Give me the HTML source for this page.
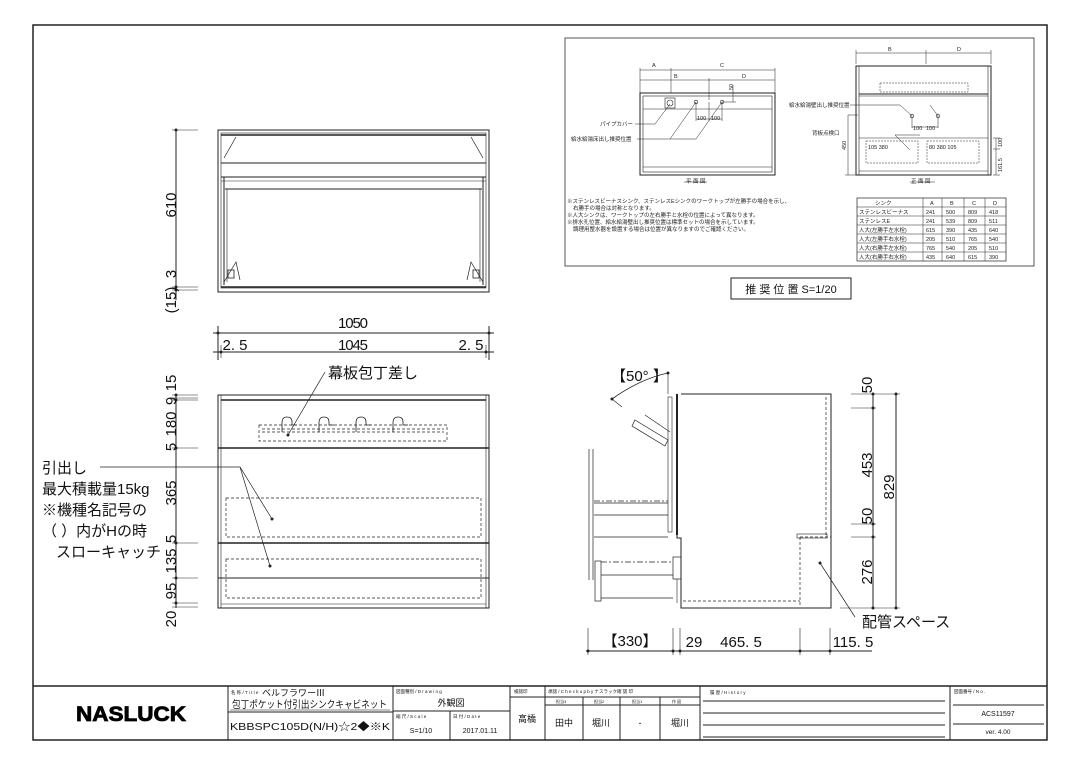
<!DOCTYPE html>
<html><head><meta charset="utf-8"><style>
html,body{margin:0;padding:0;background:#fff;}
svg{display:block;font-family:"Liberation Sans","Noto Sans CJK JP",sans-serif;}
</style></head><body>
<svg width="1080" height="764" viewBox="0 0 1080 764" xmlns="http://www.w3.org/2000/svg">
<rect width="1080" height="764" fill="#fff"/>
<g fill="none" stroke="#222" stroke-width="1">
<rect x="33" y="25" width="1014" height="715" stroke-width="1.5"/>
<line x1="33" y1="686" x2="1047" y2="686" stroke-width="1.5"/>
<line x1="228" y1="686" x2="228" y2="740"/>
<line x1="393" y1="686" x2="393" y2="740"/>
<line x1="510" y1="686" x2="510" y2="740"/>
<line x1="545" y1="686" x2="545" y2="740"/>
<line x1="700" y1="686" x2="700" y2="740"/>
<line x1="950" y1="686" x2="950" y2="740"/>
<line x1="228" y1="712" x2="393" y2="712"/>
<line x1="393" y1="711" x2="510" y2="711"/>
<line x1="450" y1="711" x2="450" y2="740"/>
<line x1="510" y1="697" x2="545" y2="697"/>
<line x1="545" y1="697" x2="700" y2="697"/>
<line x1="545" y1="705" x2="700" y2="705"/>
<line x1="583" y1="697" x2="583" y2="740"/>
<line x1="620" y1="697" x2="620" y2="740"/>
<line x1="660" y1="697" x2="660" y2="740"/>
<line x1="703" y1="701" x2="945" y2="701"/>
<line x1="703" y1="713" x2="945" y2="713"/>
<line x1="703" y1="725" x2="945" y2="725"/>
<line x1="703" y1="737" x2="945" y2="737"/>
<line x1="953" y1="705" x2="1044" y2="705"/>
<line x1="953" y1="724" x2="1044" y2="724"/>
<rect x="565" y="38" width="469" height="228" stroke="#555"/>
<rect x="731" y="278" width="120" height="21"/>
<rect x="640" y="93" width="135" height="82"/>
<rect x="643" y="96" width="129" height="76" stroke-width="0.6"/>
<line x1="643" y1="109" x2="772" y2="109" stroke-width="0.5"/>
<line x1="643" y1="167" x2="772" y2="167" stroke-width="0.5"/>
<rect x="665" y="98" width="10" height="10" stroke-width="0.6"/>
<circle cx="670" cy="103" r="3" stroke-width="0.6"/>
<circle cx="696" cy="102" r="1.8" stroke-width="0.6"/><circle cx="722" cy="102" r="1.8" stroke-width="0.6"/>
<g stroke-width="0.5">
<line x1="640" y1="68" x2="640" y2="93"/><line x1="671" y1="68" x2="671" y2="93"/><line x1="775" y1="68" x2="775" y2="93"/>
<line x1="640" y1="70" x2="775" y2="70"/><line x1="640" y1="80" x2="775" y2="80"/><line x1="709" y1="78" x2="709" y2="100"/>
<line x1="696" y1="102" x2="696" y2="121"/><line x1="722" y1="102" x2="722" y2="121"/><line x1="709" y1="102" x2="709" y2="121"/><line x1="696" y1="119" x2="722" y2="119"/>
<line x1="722" y1="102" x2="736" y2="102"/><line x1="733" y1="85" x2="733" y2="102"/>
<line x1="635" y1="124" x2="655" y2="124"/><line x1="655" y1="124" x2="670" y2="104"/>
<line x1="637" y1="139" x2="670" y2="139"/><line x1="670" y1="139" x2="696" y2="102"/><line x1="696" y1="139" x2="722" y2="102"/><line x1="670" y1="139" x2="696" y2="139"/>
<line x1="684" y1="182" x2="707" y2="182"/><line x1="910" y1="182" x2="935" y2="182"/>
</g>
<rect x="856" y="66" width="135" height="109"/>
<line x1="859" y1="66" x2="859" y2="175" stroke-width="0.6"/><line x1="988" y1="66" x2="988" y2="175" stroke-width="0.6"/>
<line x1="859" y1="94" x2="988" y2="94"/><line x1="859" y1="96" x2="988" y2="96" stroke-width="0.5"/>
<line x1="859" y1="138" x2="988" y2="138" stroke-width="0.6"/><line x1="859" y1="171" x2="988" y2="171" stroke-width="0.6"/>
<rect x="880" y="83" width="88" height="9" stroke-width="0.5" stroke-dasharray="2,1"/>
<rect x="866" y="141" width="52" height="22" stroke-width="0.5" stroke-dasharray="2,1"/>
<rect x="927" y="141" width="52" height="22" stroke-width="0.5" stroke-dasharray="2,1"/>
<circle cx="912" cy="116" r="1.8" stroke-width="0.6"/><circle cx="938" cy="116" r="1.8" stroke-width="0.6"/>
<g stroke-width="0.5">
<line x1="856" y1="50" x2="856" y2="64"/><line x1="926" y1="50" x2="926" y2="64"/><line x1="991" y1="50" x2="991" y2="64"/><line x1="856" y1="53" x2="991" y2="53"/>
<line x1="850" y1="105" x2="900" y2="105"/><line x1="900" y1="105" x2="912" y2="116"/><line x1="930" y1="105" x2="938" y2="116"/>
<line x1="848" y1="115" x2="848" y2="175"/><line x1="848" y1="115" x2="858" y2="115"/><line x1="845" y1="175" x2="858" y2="175"/>
<line x1="996" y1="138" x2="996" y2="175"/><line x1="993" y1="138" x2="1000" y2="138"/><line x1="993" y1="149" x2="1000" y2="149"/><line x1="993" y1="175" x2="1000" y2="175"/>
<line x1="912" y1="116" x2="912" y2="128"/><line x1="938" y1="116" x2="938" y2="128"/><line x1="912" y1="127" x2="938" y2="127"/>
<line x1="895" y1="135" x2="920" y2="135"/><line x1="895" y1="135" x2="910" y2="150"/>
</g>
<rect x="857" y="198" width="149" height="63" stroke-width="0.7"/>
<g stroke-width="0.5">
<line x1="857" y1="207" x2="1006" y2="207"/><line x1="857" y1="216" x2="1006" y2="216"/><line x1="857" y1="225" x2="1006" y2="225"/><line x1="857" y1="234" x2="1006" y2="234"/><line x1="857" y1="243" x2="1006" y2="243"/><line x1="857" y1="252" x2="1006" y2="252"/>
<line x1="923" y1="198" x2="923" y2="261"/><line x1="942" y1="198" x2="942" y2="261"/><line x1="964" y1="198" x2="964" y2="261"/><line x1="985" y1="198" x2="985" y2="261"/>
</g>
<rect x="218" y="130" width="271" height="162"/>
<rect x="221" y="133" width="265" height="155" stroke-width="0.6"/>
<line x1="221" y1="135" x2="486" y2="135" stroke-width="1.5"/>
<line x1="221" y1="163" x2="486" y2="163"/>
<line x1="221" y1="177" x2="486" y2="177"/><line x1="221" y1="181" x2="486" y2="181" stroke-width="0.6"/><line x1="225" y1="189" x2="482" y2="189"/>
<line x1="224" y1="177" x2="224" y2="285"/><line x1="483" y1="177" x2="483" y2="285"/>
<line x1="227" y1="189" x2="227" y2="282" stroke-width="0.6"/><line x1="480" y1="189" x2="480" y2="282" stroke-width="0.6"/>
<line x1="221" y1="287" x2="486" y2="287" stroke-width="1.5"/>
<path d="M224 158 L236 137 M483 158 L471 137 M224 282 L236 262 L240 280 M483 282 L471 262 L467 280" stroke-width="0.7"/>
<rect x="228" y="270" width="6" height="8" stroke-width="0.8"/><rect x="473" y="270" width="6" height="8" stroke-width="0.8"/>
<line x1="176" y1="130" x2="176" y2="300"/>
<line x1="172" y1="130" x2="198" y2="130" stroke-width="0.6"/>
<line x1="172" y1="287" x2="198" y2="287" stroke-width="0.6"/><line x1="172" y1="290" x2="198" y2="290" stroke-width="0.6"/>
<line x1="218" y1="326" x2="218" y2="360"/><line x1="489" y1="326" x2="489" y2="360"/>
<line x1="213" y1="333" x2="494" y2="333"/>
<line x1="213" y1="352" x2="494" y2="352"/>
<line x1="221" y1="345" x2="221" y2="358" stroke-width="0.6"/><line x1="486" y1="345" x2="486" y2="358" stroke-width="0.6"/>
<rect x="218" y="395" width="271" height="213"/>
<line x1="221" y1="395" x2="221" y2="608" stroke-width="0.6"/><line x1="486" y1="395" x2="486" y2="608" stroke-width="0.6"/>
<line x1="221" y1="400" x2="486" y2="400" stroke-width="1.5"/>
<line x1="218" y1="448" x2="489" y2="448" stroke-width="1.5"/>
<line x1="218" y1="543" x2="489" y2="543" stroke-width="1.5"/>
<line x1="218" y1="578" x2="489" y2="578"/>
<line x1="221" y1="604" x2="486" y2="604" stroke-width="0.6"/>
<g stroke-dasharray="3,2" stroke-width="0.7">
<rect x="259" y="425" width="188" height="16"/>
<line x1="262" y1="429" x2="444" y2="429"/><line x1="262" y1="432" x2="444" y2="432"/>
<rect x="226" y="498" width="255" height="39"/>
<rect x="226" y="559" width="255" height="39"/>
</g>
<g stroke-width="0.8">
<path d="M282 432 v-9 q0 -6 5 -6 q5 0 5 5 v3 h5"/>
<path d="M319 432 v-9 q0 -6 5 -6 q5 0 5 5 v3 h5"/>
<path d="M356 432 v-9 q0 -6 5 -6 q5 0 5 5 v3 h5"/>
<path d="M393 432 v-9 q0 -6 5 -6 q5 0 5 5 v3 h5"/>
</g>
<path d="M325 372 L288 435" stroke-width="0.7"/>
<path d="M100 467 L240 467 L272 519 M240 467 L270 566" stroke-width="0.7"/>
<line x1="176" y1="394" x2="176" y2="608"/>
<g stroke-width="0.6">
<line x1="172" y1="395" x2="198" y2="395"/><line x1="172" y1="398" x2="198" y2="398"/><line x1="172" y1="400" x2="198" y2="400"/>
<line x1="172" y1="448" x2="198" y2="448"/><line x1="172" y1="543" x2="198" y2="543"/><line x1="172" y1="578" x2="198" y2="578"/>
<line x1="172" y1="603" x2="198" y2="603"/><line x1="172" y1="607" x2="198" y2="607"/>
</g>
<path d="M681 394 H831 V608 H681 V538 H677 V394" />
<line x1="677" y1="394" x2="677" y2="535" stroke-width="2"/>
<rect x="668" y="397" width="4" height="135" stroke-width="0.6"/>
<rect x="673" y="557" width="8" height="22" stroke-width="0.7"/>
<line x1="677" y1="579" x2="677" y2="603" stroke-width="0.6"/>
<g stroke-dasharray="3,2" stroke-width="0.7">
<line x1="826" y1="397" x2="826" y2="535"/>
<line x1="800" y1="537" x2="831" y2="537"/>
<line x1="800" y1="537" x2="800" y2="605"/>
<line x1="683" y1="601" x2="800" y2="601"/>
</g>
<rect x="797" y="534" width="30" height="4" stroke-width="0.6"/>
<g stroke-width="0.7">
<line x1="589" y1="449" x2="589" y2="580"/><line x1="593" y1="449" x2="593" y2="580"/>
<line x1="594" y1="501" x2="668" y2="501" stroke-dasharray="6,2,2,2"/><line x1="594" y1="503" x2="668" y2="503"/>
<line x1="594" y1="515" x2="668" y2="515"/><line x1="594" y1="537" x2="668" y2="537"/>
<rect x="595" y="561" width="6" height="40"/>
<line x1="601" y1="562" x2="673" y2="562" stroke-dasharray="6,2,2,2"/><line x1="601" y1="575" x2="673" y2="575"/><line x1="601" y1="598" x2="673" y2="598"/>
<path d="M635 420 L668 440 L665 446 L632 426 Z"/>
<path d="M645 415 L670 432"/>
</g>
<path d="M612 399 Q640 379 668 373" stroke-width="0.8"/>
<line x1="668" y1="373" x2="668" y2="394" stroke-width="0.6"/>
<line x1="612" y1="399" x2="622" y2="407" stroke-width="0.6"/>
<line x1="873" y1="394" x2="873" y2="608"/><line x1="896" y1="394" x2="896" y2="608"/>
<g stroke-width="0.6">
<line x1="851" y1="394" x2="900" y2="394"/><line x1="851" y1="408" x2="876" y2="408"/>
<line x1="851" y1="524" x2="876" y2="524"/><line x1="851" y1="537" x2="876" y2="537"/>
<line x1="840" y1="608" x2="900" y2="608"/>
<line x1="588" y1="628" x2="588" y2="655"/><line x1="673" y1="628" x2="673" y2="655"/><line x1="680" y1="628" x2="680" y2="655"/><line x1="800" y1="628" x2="800" y2="655"/><line x1="830" y1="628" x2="830" y2="655"/>
</g>
<line x1="586" y1="651" x2="872" y2="651"/>
<line x1="820" y1="563" x2="855" y2="617" stroke-width="0.7"/>
</g>
<g fill="#222">
<circle cx="176" cy="130" r="1.5"/><circle cx="176" cy="287" r="1.5"/><circle cx="176" cy="290" r="1.5"/>
<circle cx="218" cy="333" r="1.5"/><circle cx="489" cy="333" r="1.5"/><circle cx="221" cy="352" r="1.5"/><circle cx="486" cy="352" r="1.5"/>
<circle cx="176" cy="395" r="1.5"/><circle cx="176" cy="400" r="1.5"/><circle cx="176" cy="448" r="1.5"/><circle cx="176" cy="543" r="1.5"/><circle cx="176" cy="578" r="1.5"/><circle cx="176" cy="603" r="1.5"/>
<circle cx="288" cy="435" r="1.5"/><circle cx="272" cy="519" r="1.5"/><circle cx="270" cy="566" r="1.5"/>
<circle cx="873" cy="394" r="1.5"/><circle cx="896" cy="394" r="1.5"/><circle cx="873" cy="408" r="1.5"/><circle cx="873" cy="524" r="1.5"/><circle cx="873" cy="537" r="1.5"/><circle cx="873" cy="608" r="1.5"/><circle cx="896" cy="608" r="1.5"/>
<circle cx="588" cy="651" r="1.5"/><circle cx="673" cy="651" r="1.5"/><circle cx="680" cy="651" r="1.5"/><circle cx="800" cy="651" r="1.5"/><circle cx="830" cy="651" r="1.5"/>
<circle cx="820" cy="563" r="1.5"/><circle cx="612" cy="399" r="1.5"/><circle cx="668" cy="373" r="1.5"/>
</g>
<g fill="#111" font-size="15">
<text x="176" y="205" transform="rotate(-90 176 205)" text-anchor="middle">610</text>
<text x="176" y="274" transform="rotate(-90 176 274)" text-anchor="middle">3</text>
<text x="176" y="300" transform="rotate(-90 176 300)" text-anchor="middle">(15)</text>
<text x="353" y="328" text-anchor="middle" textLength="30">1050</text>
<text x="235" y="350" text-anchor="middle">2. 5</text>
<text x="353" y="350" text-anchor="middle" textLength="30">1045</text>
<text x="471" y="350" text-anchor="middle">2. 5</text>
<text x="328" y="378">幕板包丁差し</text>
<text x="176" y="383" transform="rotate(-90 176 383)" text-anchor="middle">15</text>
<text x="176" y="401" transform="rotate(-90 176 401)" text-anchor="middle">9</text>
<text x="176" y="424" transform="rotate(-90 176 424)" text-anchor="middle">180</text>
<text x="176" y="447" transform="rotate(-90 176 447)" text-anchor="middle">5</text>
<text x="176" y="493" transform="rotate(-90 176 493)" text-anchor="middle">365</text>
<text x="176" y="539" transform="rotate(-90 176 539)" text-anchor="middle">5</text>
<text x="176" y="561" transform="rotate(-90 176 561)" text-anchor="middle">135</text>
<text x="176" y="591" transform="rotate(-90 176 591)" text-anchor="middle">95</text>
<text x="176" y="619" transform="rotate(-90 176 619)" text-anchor="middle">20</text>
<text x="42" y="473">引出し</text>
<text x="42" y="494">最大積載量15kg</text>
<text x="42" y="515">※機種名記号の</text>
<text x="42" y="536">（ ）内がHの時</text>
<text x="56" y="557">スローキャッチ</text>
<text x="611" y="381">【50°  】</text>
<text x="872" y="385" transform="rotate(-90 872 385)" text-anchor="middle">50</text>
<text x="872" y="465" transform="rotate(-90 872 465)" text-anchor="middle">453</text>
<text x="872" y="516" transform="rotate(-90 872 516)" text-anchor="middle">50</text>
<text x="872" y="572" transform="rotate(-90 872 572)" text-anchor="middle">276</text>
<text x="894" y="487" transform="rotate(-90 894 487)" text-anchor="middle">829</text>
<text x="862" y="627">配管スペース</text>
<text x="630" y="646" text-anchor="middle">【330】</text>
<text x="694" y="647" text-anchor="middle">29</text>
<text x="741" y="647" text-anchor="middle">465. 5</text>
<text x="853" y="647" text-anchor="middle">115. 5</text>
</g>
<g fill="#222" font-size="5.5">
<text x="652" y="67">A</text><text x="720" y="67">C</text><text x="674" y="78">B</text><text x="742" y="78">D</text>
<text x="733" y="90" transform="rotate(-90 733 90)">50</text>
<text x="697" y="120">100</text><text x="711" y="120">100</text>
<text x="600" y="126">パイプカバー</text>
<text x="571" y="141">給水給湯床出し推奨位置</text>
<text x="686" y="183">平 面 図</text>
<text x="888" y="51">B</text><text x="957" y="51">D</text>
<text x="789" y="107">給水給湯壁出し推奨位置</text>
<text x="812" y="135">背板点検口</text>
<text x="913" y="130">100</text><text x="926" y="130">100</text>
<text x="868" y="149">105  380</text><text x="929" y="149">80   380  105</text>
<text x="846" y="150" transform="rotate(-90 846 150)">450</text>
<text x="1002" y="147" transform="rotate(-90 1002 147)">100</text>
<text x="1002" y="172" transform="rotate(-90 1002 172)">161.5</text>
<text x="911" y="183">正 面 図</text>
<text x="567" y="203">※ステンレスビーナスシンク、ステンレスEシンクのワークトップが左勝手の場合を示し、</text>
<text x="573" y="210">右勝手の場合は対称となります。</text>
<text x="567" y="217">※人大シンクは、ワークトップの左右勝手と水栓の位置によって異なります。</text>
<text x="567" y="224">※排水孔位置、給水給湯壁出し推奨位置は標準セットの場合を示しています。</text>
<text x="573" y="231">調理用整水器を設置する場合は位置が異なりますのでご確認ください。</text>
<text x="875" y="205">シンク</text><text x="930" y="205">A</text><text x="950" y="205">B</text><text x="972" y="205">C</text><text x="993" y="205">D</text>
<text x="859" y="214">ステンレスビーナス</text><text x="926" y="214">241</text><text x="946" y="214">500</text><text x="968" y="214">809</text><text x="989" y="214">418</text>
<text x="859" y="223">ステンレスE</text><text x="926" y="223">241</text><text x="946" y="223">539</text><text x="968" y="223">809</text><text x="989" y="223">511</text>
<text x="859" y="232">人大(左勝手左水栓)</text><text x="926" y="232">615</text><text x="946" y="232">390</text><text x="968" y="232">435</text><text x="989" y="232">640</text>
<text x="859" y="241">人大(左勝手右水栓)</text><text x="926" y="241">205</text><text x="946" y="241">510</text><text x="968" y="241">765</text><text x="989" y="241">540</text>
<text x="859" y="250">人大(右勝手左水栓)</text><text x="926" y="250">765</text><text x="946" y="250">540</text><text x="968" y="250">205</text><text x="989" y="250">510</text>
<text x="859" y="259">人大(右勝手右水栓)</text><text x="926" y="259">435</text><text x="946" y="259">640</text><text x="968" y="259">615</text><text x="989" y="259">390</text>
</g>
<text x="791" y="293" font-size="11" text-anchor="middle" fill="#111">推 奨 位 置  S=1/20</text>
<g fill="#111">
<text x="131" y="721" font-size="21" font-weight="bold" text-anchor="middle" fill="#000" stroke="#000" stroke-width="0.8" textLength="110" lengthAdjust="spacingAndGlyphs">NASLUCK</text>
<text x="231" y="694" font-size="4.5">名 称 / T i t l e</text>
<text x="262" y="696" font-size="9">ベルフラワーⅢ</text>
<text x="232" y="708" font-size="10" textLength="155" lengthAdjust="spacingAndGlyphs">包丁ポケット付引出シンクキャビネット</text>
<line x1="230" y1="710" x2="390" y2="710" stroke="#111" stroke-width="0.6"/>
<text x="230" y="730" font-size="10.5" textLength="160" lengthAdjust="spacingAndGlyphs">KBBSPC105D(N/H)☆2◆※K</text>
<text x="396" y="693" font-size="4.5">図面種別 / D r a w i n g</text>
<text x="451" y="706" font-size="9" text-anchor="middle">外観図</text>
<text x="396" y="718" font-size="4.5">縮 尺 / S c a l e</text>
<text x="453" y="718" font-size="4.5">日 付 / D a t e</text>
<text x="421" y="733" font-size="7" text-anchor="middle">S=1/10</text>
<text x="480" y="733" font-size="7" text-anchor="middle">2017.01.11</text>
<text x="514" y="693" font-size="4.5">検認印</text>
<text x="527" y="722" font-size="9" text-anchor="middle">高橋</text>
<text x="548" y="693" font-size="4.5">承認 / C h e c k  u p  b y  ナスラック確 認 印</text>
<text x="556" y="703" font-size="4">担当3</text><text x="594" y="703" font-size="4">担当2</text><text x="632" y="703" font-size="4">担当1</text><text x="672" y="703" font-size="4">作 図</text>
<text x="564" y="726" font-size="9" text-anchor="middle">田中</text>
<text x="601" y="726" font-size="9" text-anchor="middle">堀川</text>
<text x="640" y="726" font-size="9" text-anchor="middle">-</text>
<text x="680" y="726" font-size="9" text-anchor="middle">堀川</text>
<text x="710" y="694" font-size="4.5">履 歴 / H i s t o r y</text>
<text x="954" y="693" font-size="4.5">図面番号 / N o .</text>
<text x="998" y="716" font-size="7" text-anchor="middle">ACS11597</text>
<text x="998" y="734" font-size="6.5" text-anchor="middle">ver. 4.00</text>
</g>
</svg>
</body></html>
